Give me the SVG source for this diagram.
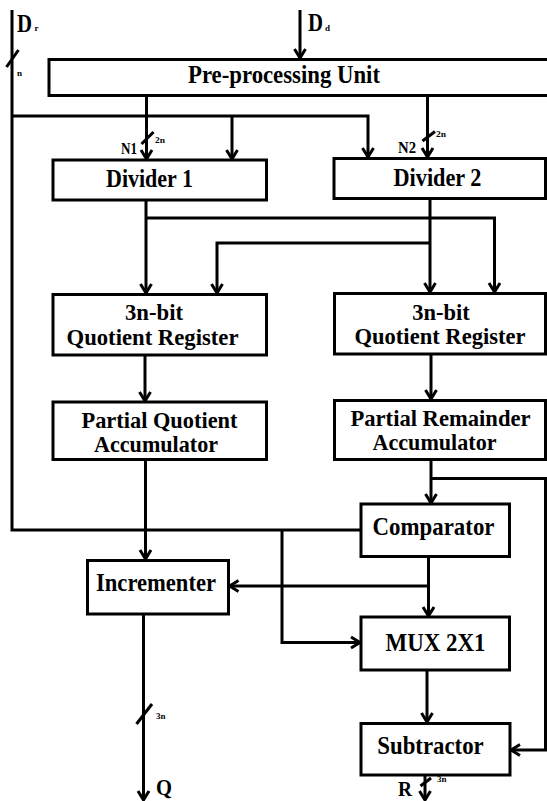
<svg xmlns="http://www.w3.org/2000/svg" width="547" height="801" viewBox="0 0 547 801">
  <style>
    .box { fill: #fff; stroke: #000; stroke-width: 3; }
    .wire { fill: none; stroke: #000; stroke-width: 3; stroke-linejoin: miter; }
    .tick { fill: none; stroke: #000; stroke-width: 3; }
    .lbl { font-family: "Liberation Serif", "Times New Roman", serif; font-weight: bold; fill: #000; }
    .big { font-size: 25px; text-anchor: middle; }
    .two { font-size: 24px; text-anchor: middle; }
    .mid { font-size: 16px; }
    .sm { font-size: 9px; }
  </style>
  <defs>
    <marker id="arr" viewBox="-11 -8 13 16" refX="0" refY="0" markerWidth="13" markerHeight="16" markerUnits="userSpaceOnUse" orient="auto">
      <path d="M-9,-5.5 L0,0 L-9,5.5" fill="none" stroke="#000" stroke-width="3"/>
    </marker>
  </defs>
  <rect width="547" height="801" fill="#fff"/>

  <!-- connectors -->
  <g id="connectors">
    <!-- divisor input: runs to both dividers and to the comparator -->
    <path class="wire" d="M12,10 V530 H361"/>
    <path class="wire" d="M12,116 H368 V157" marker-end="url(#arr)"/>
    <path class="wire" d="M232,116 V159" marker-end="url(#arr)"/>
    <!-- dividend input -->
    <path class="wire" d="M300,10 V58" marker-end="url(#arr)"/>
    <!-- N1 / N2 -->
    <path class="wire" d="M146.5,96 V159" marker-end="url(#arr)"/>
    <path class="wire" d="M427.5,96 V157" marker-end="url(#arr)"/>
    <!-- divider outputs to both registers -->
    <path class="wire" d="M146,200 V293" marker-end="url(#arr)"/>
    <path class="wire" d="M146,218 H494.5 V292" marker-end="url(#arr)"/>
    <path class="wire" d="M430,198 V292" marker-end="url(#arr)"/>
    <path class="wire" d="M430,243 H217 V293" marker-end="url(#arr)"/>
    <!-- registers to accumulators -->
    <path class="wire" d="M145,355 V401" marker-end="url(#arr)"/>
    <path class="wire" d="M431,354 V399" marker-end="url(#arr)"/>
    <!-- accumulator to incrementer -->
    <path class="wire" d="M145.5,460 V559" marker-end="url(#arr)"/>
    <!-- remainder accumulator to comparator and subtractor -->
    <path class="wire" d="M431,460 V503" marker-end="url(#arr)"/>
    <path class="wire" d="M431,478.5 H545.5 V750 H511" marker-end="url(#arr)"/>
    <!-- comparator to mux and incrementer -->
    <path class="wire" d="M428.5,557 V616" marker-end="url(#arr)"/>
    <path class="wire" d="M428.5,586 H229.5" marker-end="url(#arr)"/>
    <path class="wire" d="M282,530 V642.5 H360" marker-end="url(#arr)"/>
    <!-- mux to subtractor -->
    <path class="wire" d="M427,670 V722" marker-end="url(#arr)"/>
    <!-- outputs -->
    <path class="wire" d="M143.5,614 V800" marker-end="url(#arr)"/>
    <path class="wire" d="M425,775 V800" marker-end="url(#arr)"/>

    <!-- bus width ticks -->
    <line class="tick" x1="18.5" y1="50" x2="6.5" y2="67"/>
    <line class="tick" x1="153.5" y1="132" x2="141.5" y2="144"/>
    <line class="tick" x1="435" y1="131.5" x2="422.5" y2="141"/>
    <line class="tick" x1="152" y1="704" x2="136.5" y2="724"/>
    <line class="tick" x1="431" y1="778" x2="420.5" y2="786"/>

    <text class="lbl sm" x="17" y="76">n</text>
    <text class="lbl sm" x="155" y="143" textLength="10" lengthAdjust="spacingAndGlyphs">2n</text>
    <text class="lbl sm" x="436" y="137" textLength="10" lengthAdjust="spacingAndGlyphs">2n</text>
    <text class="lbl sm" x="156" y="718.5" textLength="9.5" lengthAdjust="spacingAndGlyphs">3n</text>
    <text class="lbl sm" x="437" y="782" textLength="9.5" lengthAdjust="spacingAndGlyphs">3n</text>
    <text class="lbl mid" x="121" y="154" textLength="16" lengthAdjust="spacingAndGlyphs">N1</text>
    <text class="lbl mid" x="398" y="152.5" textLength="18" lengthAdjust="spacingAndGlyphs">N2</text>
    <text class="lbl" x="17" y="32" font-size="25" textLength="15" lengthAdjust="spacingAndGlyphs">D</text>
    <text class="lbl" x="34.5" y="31" font-size="9">r</text>
    <text class="lbl" x="308" y="31" font-size="25" textLength="15" lengthAdjust="spacingAndGlyphs">D</text>
    <text class="lbl" x="325" y="31" font-size="9">d</text>
    <text class="lbl" x="156" y="795" font-size="24" textLength="16" lengthAdjust="spacingAndGlyphs">Q</text>
    <text class="lbl" x="398" y="796" font-size="22" textLength="14" lengthAdjust="spacingAndGlyphs">R</text>
  </g>

  <!-- nodes -->
  <g id="preprocessing">
    <rect class="box" x="49" y="59.5" width="502" height="36"/>
    <text class="lbl big" x="284" y="83" textLength="192" lengthAdjust="spacingAndGlyphs">Pre-processing Unit</text>
  </g>
  <g id="divider1">
    <rect class="box" x="53" y="160" width="213.5" height="40"/>
    <text class="lbl big" x="149.5" y="187" textLength="87" lengthAdjust="spacingAndGlyphs">Divider 1</text>
  </g>
  <g id="divider2">
    <rect class="box" x="334" y="158.5" width="211.5" height="40"/>
    <text class="lbl big" x="437.5" y="186" textLength="88" lengthAdjust="spacingAndGlyphs">Divider 2</text>
  </g>
  <g id="register1">
    <rect class="box" x="53" y="294.5" width="213.5" height="60.5"/>
    <text class="lbl two" x="154" y="320" textLength="58" lengthAdjust="spacingAndGlyphs">3n-bit</text>
    <text class="lbl two" x="152.5" y="345" textLength="172" lengthAdjust="spacingAndGlyphs">Quotient Register</text>
  </g>
  <g id="register2">
    <rect class="box" x="334.5" y="293.5" width="211" height="60.5"/>
    <text class="lbl two" x="441" y="319.5" textLength="57.5" lengthAdjust="spacingAndGlyphs">3n-bit</text>
    <text class="lbl two" x="440" y="344" textLength="171" lengthAdjust="spacingAndGlyphs">Quotient Register</text>
  </g>
  <g id="quotient-accumulator">
    <rect class="box" x="53" y="402" width="213.5" height="57.5"/>
    <text class="lbl two" x="159.5" y="427.5" textLength="156" lengthAdjust="spacingAndGlyphs">Partial Quotient</text>
    <text class="lbl two" x="156" y="452" textLength="124" lengthAdjust="spacingAndGlyphs">Accumulator</text>
  </g>
  <g id="remainder-accumulator">
    <rect class="box" x="334.5" y="400.5" width="211" height="59"/>
    <text class="lbl two" x="440.5" y="425.5" textLength="180" lengthAdjust="spacingAndGlyphs">Partial Remainder</text>
    <text class="lbl two" x="434.5" y="450" textLength="124" lengthAdjust="spacingAndGlyphs">Accumulator</text>
  </g>
  <g id="comparator">
    <rect class="box" x="361" y="504" width="148.5" height="52.5"/>
    <text class="lbl big" x="433.5" y="535" textLength="122" lengthAdjust="spacingAndGlyphs">Comparator</text>
  </g>
  <g id="incrementer">
    <rect class="box" x="87.5" y="560.5" width="141" height="53.5"/>
    <text class="lbl big" x="156" y="591" textLength="120" lengthAdjust="spacingAndGlyphs">Incrementer</text>
  </g>
  <g id="mux">
    <rect class="box" x="361" y="617" width="148.5" height="53"/>
    <text class="lbl big" x="435.5" y="650.5" textLength="100" lengthAdjust="spacingAndGlyphs">MUX 2X1</text>
  </g>
  <g id="subtractor">
    <rect class="box" x="361" y="723.5" width="149" height="51.5"/>
    <text class="lbl big" x="430.5" y="754" textLength="106.5" lengthAdjust="spacingAndGlyphs">Subtractor</text>
  </g>
</svg>
